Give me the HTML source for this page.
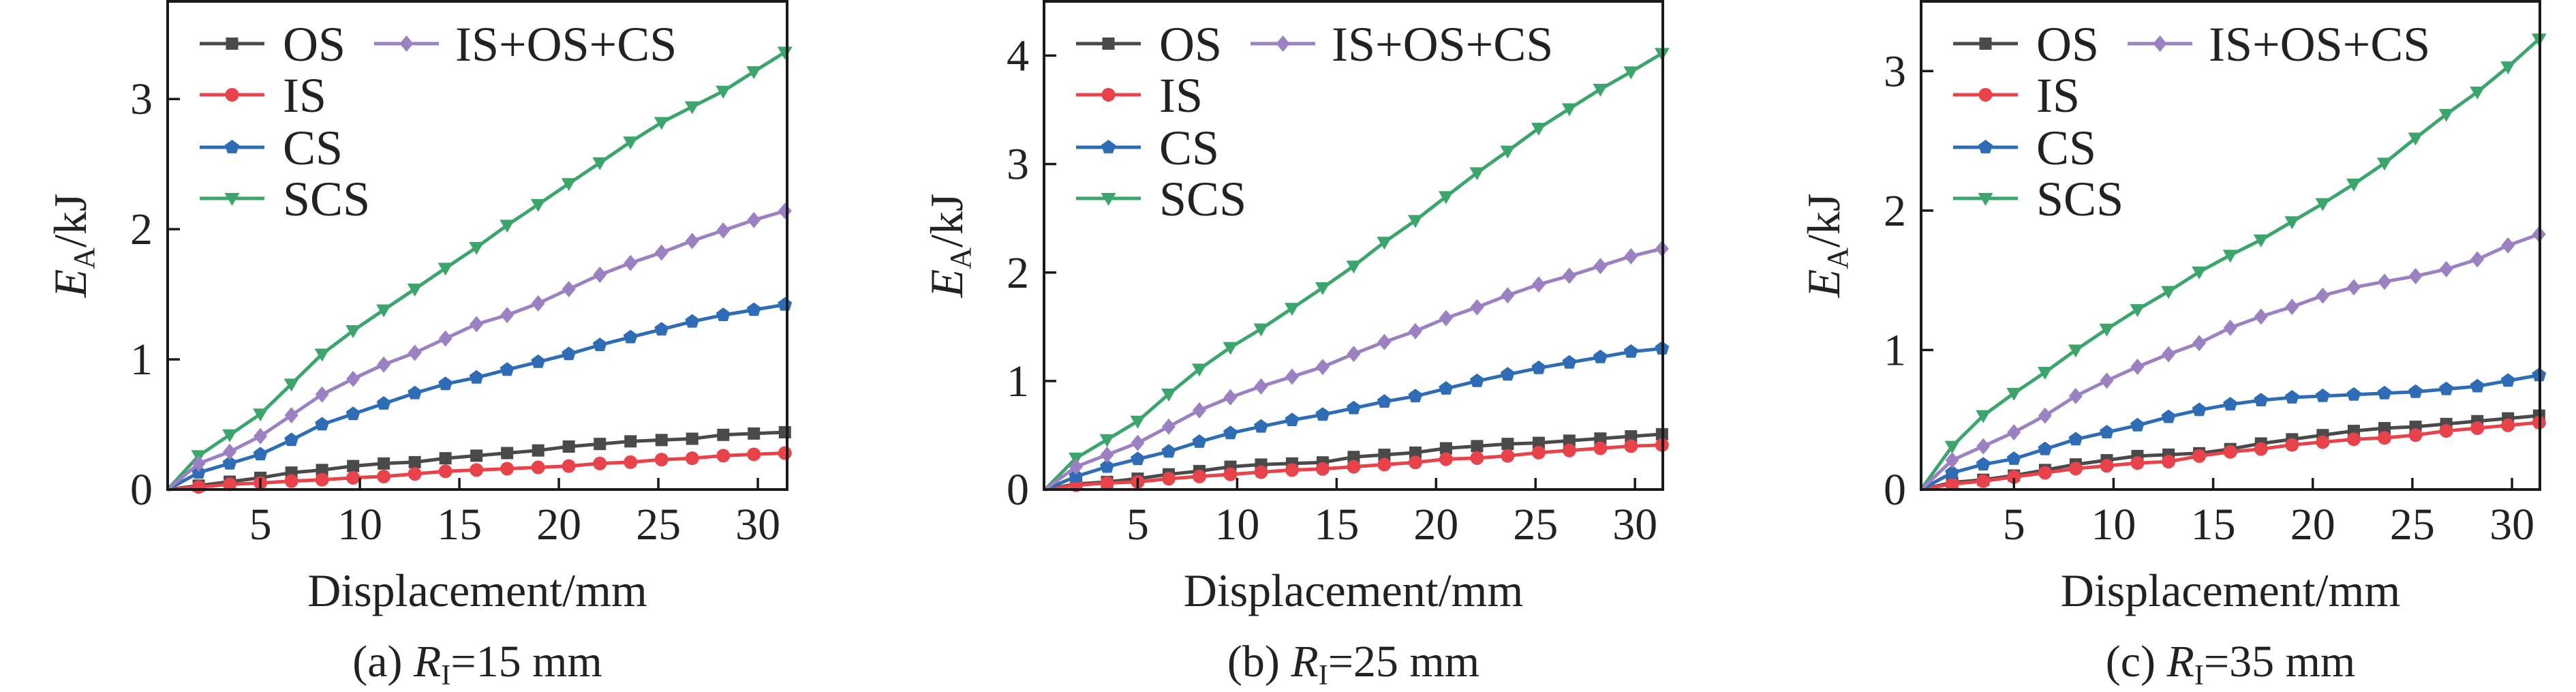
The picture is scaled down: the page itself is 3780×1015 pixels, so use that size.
<!DOCTYPE html>
<html><head><meta charset="utf-8"><style>
html,body{margin:0;padding:0;background:#fff}
svg{display:block}
svg text{font-family:"Liberation Serif","DejaVu Serif",serif;fill:#222}
</style></head><body>
<svg id="fig" width="3780" height="1015" viewBox="0 0 3780 1015" xmlns="http://www.w3.org/2000/svg" font-family="Liberation Serif, DejaVu Serif, serif"></svg>
<script>
const xVals=[0.34,1.9,3.46,5.0,6.56,8.1,9.66,11.2,12.76,14.3,15.86,17.4,18.96,20.5,22.06,23.6,25.16,26.7,28.26,29.8,31.36];
const seriesNames=["OS","IS","CS","SCS","IS+OS+CS"];
const xTicks=[5,10,15,20,25,30];
// panel a
const aOS=[0,0.03,0.06,0.09,0.13,0.15,0.18,0.20,0.21,0.24,0.26,0.28,0.30,0.33,0.35,0.37,0.38,0.39,0.42,0.43,0.44];
const aIS=[0,0.02,0.04,0.05,0.065,0.075,0.09,0.10,0.12,0.14,0.15,0.16,0.17,0.18,0.20,0.21,0.23,0.24,0.26,0.27,0.28];
const aCS=[0,0.13,0.20,0.27,0.38,0.50,0.58,0.66,0.74,0.81,0.86,0.92,0.98,1.04,1.11,1.17,1.23,1.29,1.34,1.38,1.42];
const aSCS=[0,0.26,0.42,0.58,0.81,1.04,1.22,1.38,1.54,1.70,1.86,2.03,2.19,2.35,2.51,2.67,2.82,2.94,3.06,3.21,3.36];
const aIOC=[0,0.20,0.29,0.41,0.57,0.73,0.85,0.96,1.05,1.16,1.27,1.34,1.43,1.54,1.65,1.74,1.82,1.91,1.99,2.07,2.14];
const aYTicks=[0,1,2,3];
// panel b
const bOS=[0,0.05,0.07,0.10,0.14,0.17,0.21,0.23,0.24,0.25,0.30,0.32,0.34,0.38,0.40,0.42,0.43,0.45,0.47,0.49,0.51];
const bIS=[0,0.04,0.06,0.07,0.10,0.12,0.14,0.16,0.18,0.19,0.21,0.23,0.25,0.28,0.29,0.31,0.34,0.36,0.38,0.40,0.41];
const bCS=[0,0.12,0.21,0.28,0.35,0.44,0.52,0.58,0.64,0.69,0.75,0.81,0.86,0.93,1.00,1.06,1.12,1.17,1.22,1.27,1.30];
const bSCS=[0,0.29,0.46,0.63,0.88,1.11,1.31,1.48,1.67,1.86,2.06,2.28,2.48,2.70,2.92,3.12,3.33,3.51,3.69,3.85,4.02];
const bIOC=[0,0.21,0.32,0.43,0.58,0.73,0.85,0.95,1.04,1.13,1.25,1.36,1.46,1.58,1.68,1.79,1.89,1.97,2.06,2.15,2.22];
const bYTicks=[0,1,2,3,4];
// panel c
const cOS=[0,0.05,0.07,0.10,0.14,0.18,0.21,0.24,0.25,0.26,0.29,0.33,0.36,0.39,0.42,0.44,0.45,0.47,0.49,0.51,0.53];
const cIS=[0,0.04,0.06,0.09,0.12,0.15,0.17,0.19,0.20,0.24,0.27,0.29,0.32,0.34,0.36,0.37,0.39,0.42,0.44,0.46,0.48];
const cCS=[0,0.12,0.18,0.22,0.29,0.36,0.41,0.46,0.52,0.57,0.61,0.64,0.66,0.67,0.68,0.69,0.70,0.72,0.74,0.78,0.82];
const cSCS=[0,0.31,0.53,0.69,0.84,1.00,1.15,1.29,1.42,1.56,1.68,1.79,1.92,2.05,2.19,2.34,2.52,2.69,2.85,3.03,3.23];
const cIOC=[0,0.21,0.31,0.41,0.53,0.67,0.78,0.88,0.97,1.05,1.16,1.24,1.31,1.39,1.45,1.49,1.53,1.58,1.65,1.75,1.83];
const cYTicks=[0,1,2,3];

const NS="http://www.w3.org/2000/svg";
const svg=document.getElementById('fig');
function mk(tag,attrs,parent){const e=document.createElementNS(NS,tag);for(const k in attrs)e.setAttribute(k,attrs[k]);(parent||svg).appendChild(e);return e;}
const colors=["#4a4a4a","#e8424a","#2e6db6","#3ba56c","#9b80c2"];
const markers=["square","circle","pentagon","tri","diamond"];
function marker(g,type,x,y,c){
  const s=9;let e;
  if(type==="square")e=mk('rect',{x:x-s,y:y-s,width:2*s,height:2*s,fill:c},g);
  else if(type==="circle")e=mk('circle',{cx:x,cy:y,r:s+1,fill:c},g);
  else if(type==="pentagon"){let p=[];for(let i=0;i<5;i++){const a=-Math.PI/2+i*2*Math.PI/5;p.push((x+11*Math.cos(a)).toFixed(1)+","+(y+11*Math.sin(a)).toFixed(1));}e=mk('polygon',{points:p.join(" "),fill:c},g);}
  else if(type==="tri")e=mk('polygon',{points:`${x-11},${y-8} ${x+11},${y-8} ${x},${y+11}`,fill:c},g);
  else e=mk('polygon',{points:`${x},${y-12} ${x+10},${y} ${x},${y+12} ${x-10},${y}`,fill:c},g);
  return e;
}
const panels=[
 {id:"a",left:246,right:1155,xmin:0.34,xmax:31.47,ymax:3.75,yt:aYTicks,data:[aOS,aIS,aCS,aSCS,aIOC],label:"(a) ",r:"15"},
 {id:"b",left:1532,right:2440,xmin:0.29,xmax:31.4,ymax:4.5,yt:bYTicks,data:[bOS,bIS,bCS,bSCS,bIOC],label:"(b) ",r:"25"},
 {id:"c",left:2819,right:3727,xmin:0.34,xmax:31.4,ymax:3.5,yt:cYTicks,data:[cOS,cIS,cCS,cSCS,cIOC],label:"(c) ",r:"35"}
];
const plotTop=2,plotBottom=718;
panels.forEach(P=>{
  const g=mk('g',{});
  
  
  const sx=v=>P.left+(v-P.xmin)/(P.xmax-P.xmin)*(P.right-P.left);
  const sy=v=>plotBottom-v/P.ymax*(plotBottom-plotTop);
  P.data.forEach((arr,si)=>{
    const sg=mk('g',{},g);
    
    
    const pts=arr.map((v,i)=>sx(xVals[i]).toFixed(1)+","+sy(v).toFixed(1)).join(" ");
    const pl=mk('polyline',{points:pts,fill:"none",stroke:colors[si],"stroke-width":5,"stroke-linejoin":"round"},sg);
    
    
    arr.forEach((v,i)=>{if(i===0)return;const m=marker(sg,markers[si],sx(xVals[i]),sy(v),colors[si]);
      
      });
  });
  const fr=mk('rect',{x:P.left,y:plotTop,width:P.right-P.left,height:plotBottom-plotTop,fill:"none",stroke:"#1a1a1a","stroke-width":4},g);
  
  
  xTicks.forEach(t=>{
    const x=sx(t);
    const l=mk('line',{x1:x,x2:x,y1:plotBottom,y2:plotBottom-17,stroke:"#1a1a1a","stroke-width":3.5},g);
    
    
    const tx=mk('text',{x:x,y:791,"text-anchor":"middle","font-size":66},g);tx.textContent=t;
    
    
  });
  P.yt.forEach(t=>{
    const y=sy(t);
    if(t>0){const l=mk('line',{x1:P.left,x2:P.left+18,y1:y,y2:y,stroke:"#1a1a1a","stroke-width":3.5},g);
    
    }
    const tx=mk('text',{x:P.left-22,y:y+22,"text-anchor":"end","font-size":66},g);tx.textContent=t;
    
    
  });
  const cx=(P.left+P.right)/2;
  const xt=mk('text',{x:cx,y:889,"text-anchor":"middle","font-size":68},g);xt.textContent="Displacement/mm";
  
  
  const yt=mk('text',{x:0,y:0,"text-anchor":"middle","font-size":68,transform:`translate(${P.left-120},360) rotate(-90)`},g);
  yt.innerHTML='<tspan font-style="italic">E</tspan><tspan font-size="44" dy="12">A</tspan><tspan dy="-12">/kJ</tspan>';
  
  
  const cap=mk('text',{x:cx,y:992,"text-anchor":"middle","font-size":66},g);
  cap.innerHTML=P.label+'<tspan font-style="italic">R</tspan><tspan font-size="42" dy="12">I</tspan><tspan dy="-12">='+P.r+' mm</tspan>';
  
  
  const lg=mk('g',{},g);
  
  
  const pos=[[0,64],[0,139],[0,216],[0,291],[1,64]];
  seriesNames.forEach((n,si)=>{
    const [col,y]=pos[si];
    const x0=P.left+(col?303:47), x1=x0+95, tx0=P.left+(col?422:169);
    const eg=mk('g',{},lg);
    
    
    mk('line',{x1:x0,x2:x1,y1:y,y2:y,stroke:colors[si],"stroke-width":5},eg);
    marker(eg,markers[si],(x0+x1)/2,y,colors[si]);
    const t=mk('text',{x:tx0,y:y+25,"font-size":72},eg);t.textContent=n;
  });
});
</script>
</body></html>
